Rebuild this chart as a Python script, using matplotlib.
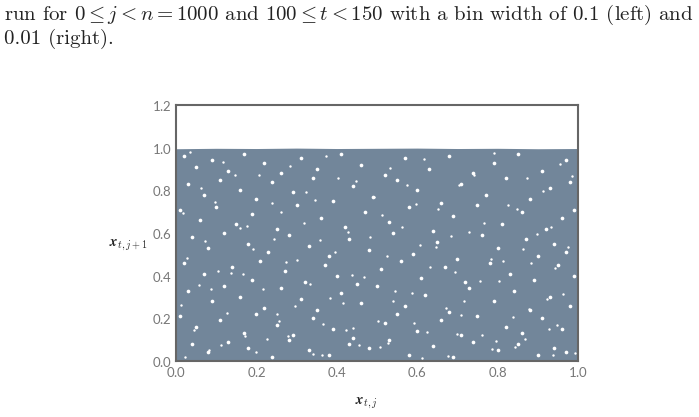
import matplotlib
matplotlib.use('Agg')
import matplotlib.pyplot as plt

# outline of the point cloud
cloud_x = [0.0, 0.1, 0.2, 0.3, 0.4, 0.5, 0.6, 0.7, 0.8, 0.9, 1.0]
cloud_top = [0.995, 0.997, 0.996, 0.998, 0.996, 0.997, 0.998, 0.996, 0.997, 0.995, 0.996]

# the points themselves are too dense to read, so these are the
# more visible white gaps, placed by eye
gap_x = [0.02, 0.05, 0.09, 0.13, 0.17, 0.22, 0.26, 0.31, 0.35, 0.41, 0.46, 0.52, 0.57, 0.63, 0.68, 0.74, 0.79, 0.85, 0.91, 0.97,
         0.03, 0.07, 0.11, 0.16, 0.2, 0.24, 0.29, 0.34, 0.39, 0.44, 0.49, 0.55, 0.6, 0.66, 0.71, 0.77, 0.82, 0.88, 0.93, 0.98,
         0.01, 0.06, 0.1, 0.15, 0.19, 0.25, 0.3, 0.36, 0.42, 0.47, 0.53, 0.58, 0.64, 0.69, 0.75, 0.81, 0.86, 0.92, 0.96, 0.99,
         0.04, 0.08, 0.12, 0.18, 0.23, 0.28, 0.33, 0.38, 0.43, 0.48, 0.54, 0.59, 0.65, 0.7, 0.76, 0.8, 0.87, 0.9, 0.94, 0.97,
         0.02, 0.07, 0.14, 0.19, 0.21, 0.27, 0.32, 0.37, 0.4, 0.45, 0.51, 0.56, 0.61, 0.67, 0.72, 0.78, 0.83, 0.89, 0.95, 0.99,
         0.03, 0.09, 0.12, 0.16, 0.22, 0.26, 0.31, 0.35, 0.41, 0.46, 0.5, 0.57, 0.62, 0.68, 0.73, 0.79, 0.84, 0.88, 0.93, 0.98,
         0.01, 0.05, 0.11, 0.17, 0.2, 0.25, 0.29, 0.34, 0.39, 0.44, 0.52, 0.55, 0.6, 0.66, 0.71, 0.75, 0.82, 0.86, 0.91, 0.96,
         0.04, 0.08, 0.13, 0.18, 0.24, 0.28, 0.33, 0.38, 0.43, 0.48, 0.53, 0.58, 0.64, 0.69, 0.74, 0.8, 0.85, 0.9, 0.94, 0.97]
gap_y = [0.96, 0.91, 0.94, 0.89, 0.97, 0.93, 0.88, 0.95, 0.9, 0.97, 0.92, 0.87, 0.95, 0.9, 0.96, 0.88, 0.93, 0.97, 0.89, 0.94,
         0.83, 0.78, 0.85, 0.8, 0.76, 0.84, 0.79, 0.86, 0.75, 0.82, 0.77, 0.85, 0.8, 0.74, 0.83, 0.78, 0.86, 0.76, 0.81, 0.84,
         0.71, 0.66, 0.72, 0.64, 0.69, 0.62, 0.73, 0.67, 0.63, 0.7, 0.65, 0.72, 0.61, 0.68, 0.73, 0.64, 0.7, 0.62, 0.67, 0.71,
         0.58, 0.53, 0.6, 0.55, 0.51, 0.59, 0.54, 0.49, 0.57, 0.52, 0.6, 0.5, 0.56, 0.48, 0.59, 0.53, 0.57, 0.49, 0.55, 0.51,
         0.46, 0.41, 0.44, 0.38, 0.47, 0.42, 0.37, 0.45, 0.4, 0.36, 0.43, 0.47, 0.39, 0.44, 0.37, 0.46, 0.41, 0.38, 0.45, 0.4,
         0.33, 0.28, 0.35, 0.3, 0.25, 0.34, 0.29, 0.24, 0.32, 0.27, 0.35, 0.26, 0.31, 0.23, 0.34, 0.28, 0.33, 0.24, 0.3, 0.26,
         0.21, 0.16, 0.19, 0.13, 0.22, 0.17, 0.12, 0.2, 0.15, 0.11, 0.18, 0.22, 0.14, 0.19, 0.12, 0.21, 0.16, 0.13, 0.2, 0.15,
         0.08, 0.04, 0.09, 0.06, 0.02, 0.1, 0.05, 0.03, 0.08, 0.06, 0.1, 0.03, 0.07, 0.02, 0.09, 0.05, 0.08, 0.03, 0.06, 0.04]

# smaller gaps in between, also by eye
small_x = [0.035, 0.118, 0.207, 0.283, 0.372, 0.448, 0.533, 0.617, 0.704, 0.792, 0.873, 0.955, 0.062, 0.147, 0.238, 0.323, 0.404, 0.493, 0.574, 0.652,
           0.741, 0.826, 0.912, 0.985, 0.018, 0.096, 0.176, 0.262, 0.347, 0.427, 0.512, 0.596, 0.683, 0.767, 0.848, 0.934, 0.073, 0.158, 0.243, 0.318,
           0.396, 0.482, 0.563, 0.647, 0.728, 0.813, 0.897, 0.976, 0.027, 0.104, 0.192, 0.274, 0.358, 0.437, 0.524, 0.608, 0.694, 0.783, 0.862, 0.944,
           0.056, 0.137, 0.216, 0.302, 0.383, 0.467, 0.546, 0.633, 0.716, 0.804, 0.884, 0.963, 0.012, 0.088, 0.167, 0.252, 0.333, 0.416, 0.503, 0.587,
           0.672, 0.755, 0.838, 0.922, 0.044, 0.128, 0.226, 0.296, 0.366, 0.456, 0.541, 0.624, 0.709, 0.797, 0.878, 0.949, 0.081, 0.172, 0.257, 0.341,
           0.422, 0.507, 0.592, 0.676, 0.762, 0.843, 0.927, 0.992, 0.023, 0.113, 0.198, 0.279, 0.364, 0.441, 0.528, 0.613, 0.698, 0.787, 0.867, 0.939]
small_y = [0.982, 0.931, 0.874, 0.916, 0.963, 0.843, 0.905, 0.948, 0.826, 0.977, 0.858, 0.922, 0.812, 0.873, 0.741, 0.794, 0.856, 0.768, 0.827, 0.712,
           0.874, 0.733, 0.798, 0.866, 0.692, 0.747, 0.633, 0.698, 0.756, 0.604, 0.683, 0.737, 0.586, 0.646, 0.712, 0.628, 0.562, 0.624, 0.573, 0.647,
           0.511, 0.579, 0.628, 0.533, 0.607, 0.468, 0.594, 0.536, 0.483, 0.422, 0.527, 0.462, 0.566, 0.403, 0.491, 0.544, 0.417, 0.476, 0.523, 0.437,
           0.356, 0.414, 0.337, 0.473, 0.294, 0.396, 0.327, 0.442, 0.283, 0.374, 0.458, 0.312, 0.262, 0.336, 0.407, 0.222, 0.361, 0.274, 0.189, 0.317,
           0.248, 0.376, 0.204, 0.292, 0.147, 0.227, 0.103, 0.257, 0.174, 0.073, 0.283, 0.136, 0.214, 0.094, 0.242, 0.168, 0.052, 0.116, 0.187, 0.033,
           0.143, 0.067, 0.178, 0.022, 0.124, 0.064, 0.151, 0.036, 0.017, 0.076, 0.043, 0.118, 0.028, 0.157, 0.084, 0.012, 0.126, 0.058, 0.104, 0.026]

x_ticks = [0.0, 0.2, 0.4, 0.6, 0.8, 1.0]
y_ticks = [0.0, 0.2, 0.4, 0.6, 0.8, 1.0, 1.2]

plt.rcParams['mathtext.fontset'] = 'cm'
plt.rcParams['axes.formatter.use_mathtext'] = True
W, H = 699, 417
fig = plt.figure(figsize=(W / 100, H / 100), dpi=100)
ax = fig.add_axes([176 / W, (H - 361) / H, 402 / W, 256 / H])

ax.fill_between(cloud_x, 0, cloud_top, color='#72869a', linewidth=0)
ax.scatter(gap_x, gap_y, s=7, color='white', linewidths=0)
ax.scatter(small_x, small_y, s=3, color='white', linewidths=0)

ax.set_xlim(0, 1)
ax.set_ylim(0, 1.2)
ax.set_xticks(x_ticks)
ax.set_yticks(y_ticks)
ax.tick_params(length=0, labelsize=9.5, labelcolor='#777777', pad=3)
for lab in ax.get_xticklabels() + ax.get_yticklabels():
    lab.set_family('Lato')
for s in ax.spines.values():
    s.set_color('#666666')
    s.set_linewidth(1.5)

fig.text(366 / W, 1 - 403 / H, r'$\mathbfit{x}_{t,j}$', fontsize=10.5, ha='center', va='center', color='#222222')
fig.text(128 / W, 1 - 245 / H, r'$\mathbfit{x}_{t,j+1}$', fontsize=10.5, ha='center', va='center', color='#222222')

# caption text above the figure
fig.text(4 / W, 1 - 15 / H, r'run for $0 \leq j < n = 1000$ and $100 \leq t < 150$ with a bin width of 0.1 (left) and',
         fontsize=15, family='cmr10', va='center', color='#222222')
fig.text(4 / W, 1 - 39 / H, '0.01 (right).', fontsize=15, family='cmr10', va='center', color='#222222')

fig.savefig('out.png', dpi=100)
